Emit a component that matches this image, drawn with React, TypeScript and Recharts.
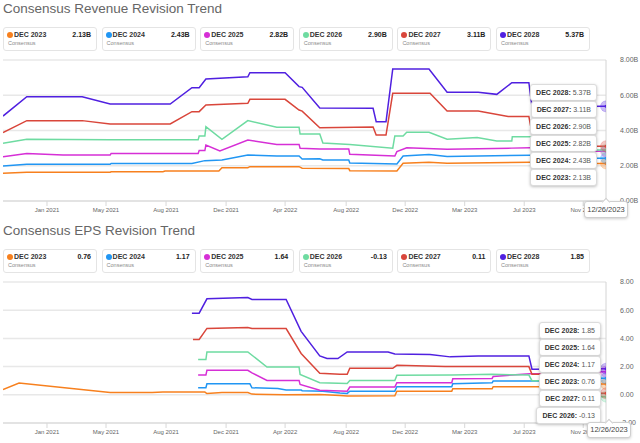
import React from "react";
import { LineChart, Line, XAxis, YAxis, CartesianGrid, ReferenceLine } from "recharts";

const FONT = '"Liberation Sans", Arial, Helvetica, sans-serif';

const seriesLabels = ["DEC 2023", "DEC 2024", "DEC 2025", "DEC 2026", "DEC 2027", "DEC 2028"];
const seriesColors = ["#f7801e", "#2196f3", "#d62fd6", "#6edba1", "#d9463b", "#5020e0"];

const xTickDates = [
  "2021-01-10", "2021-05-04", "2021-08-28", "2021-12-22", "2022-04-15",
  "2022-08-11", "2022-12-03", "2023-03-28", "2023-07-21", "2023-11-12",
];
const xTickLabels = [
  "Jan 2021", "May 2021", "Aug 2021", "Dec 2021", "Apr 2022",
  "Aug 2022", "Dec 2022", "Mar 2023", "Jul 2023", "Nov 2023",
];
const startDate = "2020-10-17";
const endDate = "2023-12-26";
const endLabel = "12/26/2023";

const revTicks = [0, 2, 4, 6, 8];
const epsTicks = [-2, 0, 2, 4, 6, 8];

// revenue, $B
const rev2023: [string, number][] = [
  ["2020-10-17", 1.57], ["2020-12-02", 1.63], ["2021-05-12", 1.63], ["2021-05-14", 1.66],
  ["2021-08-22", 1.66], ["2021-08-26", 1.7], ["2021-12-08", 1.7], ["2021-12-14", 1.89],
  ["2022-02-02", 1.89], ["2022-02-06", 1.95], ["2022-05-12", 1.95], ["2022-05-18", 1.86],
  ["2022-08-16", 1.84], ["2022-08-18", 1.72], ["2022-11-17", 1.7], ["2022-11-29", 2.14],
  ["2023-01-18", 2.2], ["2023-02-22", 2.14], ["2023-08-01", 2.2], ["2023-09-20", 2.2],
  ["2023-09-21", 2.13], ["2023-12-26", 2.13],
];
const rev2024: [string, number][] = [
  ["2020-10-17", 1.99], ["2020-12-02", 2.08], ["2021-05-12", 2.08], ["2021-05-14", 2.13],
  ["2021-10-17", 2.13], ["2021-11-11", 2.29], ["2021-12-14", 2.33], ["2022-02-02", 2.61],
  ["2022-03-30", 2.55], ["2022-05-12", 2.55], ["2022-05-18", 2.38], ["2022-06-21", 2.4],
  ["2022-06-27", 2.33], ["2022-08-16", 2.33], ["2022-08-18", 2.16], ["2022-11-17", 2.1],
  ["2022-11-29", 2.55], ["2023-01-18", 2.64], ["2023-02-22", 2.52], ["2023-08-01", 2.6],
  ["2023-09-20", 2.6], ["2023-09-21", 2.43], ["2023-12-26", 2.43],
];
const rev2025: [string, number][] = [
  ["2020-10-17", 2.51], ["2020-12-02", 2.7], ["2021-02-10", 2.61], ["2021-05-12", 2.61],
  ["2021-05-14", 2.7], ["2021-10-29", 2.7], ["2021-10-31", 2.86], ["2021-11-11", 2.86],
  ["2021-11-13", 3.18], ["2021-12-10", 2.84], ["2022-02-02", 3.46], ["2022-03-30", 3.21],
  ["2022-05-12", 3.21], ["2022-05-14", 2.99], ["2022-06-21", 2.95], ["2022-08-16", 2.95],
  ["2022-08-18", 2.65], ["2022-11-13", 2.55], ["2022-11-17", 2.8], ["2022-12-06", 3.02],
  ["2023-02-22", 2.93], ["2023-06-27", 3.0], ["2023-08-01", 3.02], ["2023-09-20", 3.02],
  ["2023-09-21", 2.82], ["2023-12-26", 2.82],
];
const rev2026: [string, number][] = [
  ["2020-10-17", 3.27], ["2020-12-02", 3.5], ["2021-05-12", 3.47], ["2021-10-29", 3.47],
  ["2021-10-31", 3.69], ["2021-11-11", 3.69], ["2021-11-13", 4.22], ["2021-12-14", 3.5],
  ["2022-02-02", 4.56], ["2022-03-30", 4.18], ["2022-05-12", 4.18], ["2022-05-14", 3.8],
  ["2022-06-21", 3.8], ["2022-06-27", 3.29], ["2022-08-18", 3.2], ["2022-11-09", 3.0],
  ["2022-11-13", 3.69], ["2022-11-29", 3.69], ["2022-12-06", 3.9], ["2023-01-18", 3.9],
  ["2023-02-22", 3.5], ["2023-04-21", 3.6], ["2023-05-29", 3.4], ["2023-06-27", 3.4],
  ["2023-06-28", 3.65], ["2023-08-01", 3.65], ["2023-09-20", 3.55], ["2023-09-21", 2.9],
  ["2023-12-26", 2.9],
];
const rev2027: [string, number][] = [
  ["2020-10-17", 3.88], ["2020-12-02", 4.56], ["2021-03-19", 4.56], ["2021-05-12", 4.37],
  ["2021-09-05", 4.37], ["2021-10-17", 5.07], ["2021-10-31", 5.07], ["2021-11-13", 5.45],
  ["2022-02-02", 5.54], ["2022-02-06", 5.77], ["2022-04-15", 5.77], ["2022-05-12", 5.16],
  ["2022-05-18", 5.1], ["2022-06-21", 4.16], ["2022-10-02", 4.2], ["2022-10-08", 3.74],
  ["2022-10-27", 3.74], ["2022-11-09", 6.11], ["2023-01-20", 6.11], ["2023-02-22", 5.1],
  ["2023-04-23", 5.1], ["2023-06-20", 4.79], ["2023-07-30", 4.79], ["2023-08-05", 3.86],
  ["2023-09-20", 3.86], ["2023-09-21", 3.11], ["2023-12-26", 3.11],
];
const rev2028: [string, number][] = [
  ["2020-10-17", 4.82], ["2020-12-02", 5.92], ["2021-03-19", 5.92], ["2021-05-12", 5.5],
  ["2021-09-05", 5.5], ["2021-10-17", 6.43], ["2021-10-31", 6.43], ["2021-11-13", 6.92],
  ["2022-02-02", 7.05], ["2022-02-06", 7.28], ["2022-04-15", 7.28], ["2022-05-12", 6.49],
  ["2022-05-18", 6.45], ["2022-06-21", 5.28], ["2022-10-02", 5.26], ["2022-10-08", 4.5],
  ["2022-10-27", 4.5], ["2022-11-09", 7.49], ["2023-01-18", 7.49], ["2023-02-22", 6.17],
  ["2023-04-23", 6.17], ["2023-05-29", 6.05], ["2023-06-27", 6.71], ["2023-07-30", 6.71],
  ["2023-08-05", 5.35], ["2023-12-26", 5.37],
];

// EPS, $
const eps2023: [string, number][] = [
  ["2020-10-17", 0.38], ["2020-11-17", 0.83], ["2021-05-12", 0.16], ["2021-08-01", 0.16],
  ["2021-08-22", 0.2], ["2021-11-11", 0.19], ["2021-11-15", 0.09], ["2021-12-14", 0.16],
  ["2022-02-02", 0.16], ["2022-02-10", 0.05], ["2022-04-15", 0.0], ["2022-06-21", 0.02],
  ["2022-07-30", -0.05], ["2022-08-13", -0.08], ["2022-11-13", -0.07], ["2022-11-17", 0.26],
  ["2023-03-03", 0.26], ["2023-03-05", 0.43], ["2023-05-20", 0.43], ["2023-05-22", 0.57],
  ["2023-09-20", 0.57], ["2023-09-21", 0.76], ["2023-12-26", 0.76],
];
const eps2024: [string, number][] = [
  ["2021-10-29", 0.5], ["2021-11-13", 0.5], ["2021-11-15", 0.78], ["2022-02-06", 0.78],
  ["2022-02-10", 0.5], ["2022-04-01", 0.44], ["2022-04-17", 0.34], ["2022-05-16", 0.34],
  ["2022-05-18", 0.29], ["2022-06-27", 0.26], ["2022-07-30", 0.12], ["2022-08-13", 0.1],
  ["2022-08-18", 0.26], ["2022-11-13", 0.26], ["2022-11-17", 0.57], ["2023-03-03", 0.57],
  ["2023-03-05", 0.78], ["2023-05-20", 0.85], ["2023-05-22", 0.97], ["2023-09-20", 0.97],
  ["2023-09-21", 1.17], ["2023-12-26", 1.17],
];
const eps2025: [string, number][] = [
  ["2021-10-29", 1.4], ["2021-11-13", 1.4], ["2021-11-15", 1.74], ["2022-02-02", 1.74],
  ["2022-02-10", 1.55], ["2022-03-11", 1.02], ["2022-05-12", 1.02], ["2022-05-14", 0.74],
  ["2022-06-21", 0.33], ["2022-08-13", 0.26], ["2022-08-18", 0.55], ["2022-11-13", 0.55],
  ["2022-11-17", 0.86], ["2023-03-03", 0.86], ["2023-03-05", 1.14], ["2023-05-20", 1.16],
  ["2023-05-22", 1.3], ["2023-08-01", 1.5], ["2023-09-20", 1.5], ["2023-09-21", 1.64],
  ["2023-12-26", 1.64],
];
const eps2026: [string, number][] = [
  ["2021-10-29", 2.5], ["2021-11-13", 2.5], ["2021-11-15", 3.04], ["2022-02-02", 3.04],
  ["2022-03-11", 1.97], ["2022-05-12", 1.97], ["2022-05-14", 1.45], ["2022-06-21", 0.86],
  ["2022-08-13", 0.8], ["2022-08-18", 1.02], ["2022-11-13", 1.02], ["2022-11-17", 1.38],
  ["2023-03-03", 1.4], ["2023-05-20", 1.45], ["2023-07-30", 1.4], ["2023-08-05", 1.0],
  ["2023-09-20", 1.0], ["2023-09-21", -0.13], ["2023-12-26", -0.13],
];
const eps2027: [string, number][] = [
  ["2021-10-19", 3.93], ["2021-10-31", 3.93], ["2021-11-15", 4.71], ["2022-02-02", 4.78],
  ["2022-02-10", 4.7], ["2022-04-17", 4.7], ["2022-05-16", 2.93], ["2022-06-21", 1.52],
  ["2022-07-30", 1.45], ["2022-08-13", 1.45], ["2022-08-18", 1.88], ["2022-11-09", 1.88],
  ["2022-11-17", 2.09], ["2023-02-18", 2.0], ["2023-07-30", 2.0], ["2023-08-05", 1.45],
  ["2023-09-20", 1.45], ["2023-09-21", 0.11], ["2023-12-26", 0.11],
];
const eps2028: [string, number][] = [
  ["2021-10-17", 5.79], ["2021-10-31", 5.79], ["2021-11-15", 6.81], ["2022-02-02", 6.9],
  ["2022-02-10", 6.76], ["2022-04-17", 6.76], ["2022-05-16", 4.5], ["2022-06-21", 2.76],
  ["2022-07-05", 2.57], ["2022-07-26", 2.57], ["2022-08-13", 3.04], ["2022-10-31", 3.04],
  ["2022-11-13", 2.9], ["2023-01-20", 2.86], ["2023-02-28", 2.69], ["2023-04-23", 2.76],
  ["2023-07-30", 2.76], ["2023-08-05", 1.81], ["2023-12-26", 1.85],
];

const revSeries = [rev2023, rev2024, rev2025, rev2026, rev2027, rev2028];
const epsSeries = [eps2023, eps2024, eps2025, eps2026, eps2027, eps2028];

const ts = (d: string) => Date.parse(d);

type Pt = { t: number; v: number };

function buildSeries(rows: [string, number][][]) {
  return rows.map((r, i) => ({
    label: seriesLabels[i],
    color: seriesColors[i],
    points: r.map(([d, v]) => ({ t: ts(d), v })) as Pt[],
    last: r[r.length - 1][1],
  }));
}

type Series = ReturnType<typeof buildSeries>[number];

function Card({ s, left, top, fmt }: { s: Series; left: number; top: number; fmt: (v: number) => string }) {
  return (
    <div
      style={{
        position: "absolute", left, top, width: 94, height: 24, boxSizing: "border-box",
        border: "1px solid #e4e4e4", borderRadius: 3, background: "#fff",
      }}
    >
      <div style={{ position: "absolute", left: 3, top: 4, width: 6, height: 6, borderRadius: 3, background: s.color }} />
      <div style={{ position: "absolute", left: 10, top: 2, fontSize: 7, lineHeight: "10px", color: "#333", fontWeight: 600 }}>
        {s.label}
      </div>
      <div style={{ position: "absolute", right: 5, top: 2, fontSize: 7, lineHeight: "10px", color: "#222", fontWeight: 700 }}>
        {fmt(s.last)}
      </div>
      <div style={{ position: "absolute", left: 4, top: 11, fontSize: 5.5, lineHeight: "9px", color: "#8a8a8a" }}>
        Consensus
      </div>
    </div>
  );
}

function Section({
  title, series, yTicks, fmt, top, chartTop, chartHeight, xAxisHeight, tipTop, tipRight, dateBox,
}: {
  title: string; series: Series[]; yTicks: number[]; fmt: (v: number) => string;
  top: number; chartTop: number; chartHeight: number; xAxisHeight: number;
  tipTop: number; tipRight: number; dateBox: { left: number; top: number; height: number };
}) {
  const sorted = [...series].sort((a, b) => b.last - a.last);
  const endTs = ts(endDate);
  return (
    <>
      <div style={{ position: "absolute", left: 3, top, fontSize: 13.5, lineHeight: "18px", color: "#666" }}>{title}</div>
      {series.map((s, i) => (
        <Card key={s.label} s={s} left={3 + i * 98.6} top={top + 27} fmt={fmt} />
      ))}
      <div style={{ position: "absolute", left: 0, top: chartTop }}>
        <LineChart width={640} height={chartHeight} margin={{ top: 5, right: 0, bottom: 0, left: 3 }}>
          <CartesianGrid horizontal vertical={false} stroke="#e8e8e8" strokeWidth={1.5} />
          <XAxis
            type="number"
            dataKey="t"
            domain={[ts(startDate), endTs]}
            ticks={xTickDates.map(ts)}
            tickFormatter={(_v: number, i: number) => xTickLabels[i]}
            height={xAxisHeight}
            tickSize={5}
            tickMargin={2}
            stroke="#d8d8d8"
            tick={{ fontSize: 6, fill: "#666", fontFamily: FONT }}
            allowDataOverflow
          />
          <YAxis
            orientation="right"
            domain={[yTicks[0], yTicks[yTicks.length - 1]]}
            ticks={yTicks}
            tickFormatter={(v: number) => fmt(v)}
            width={34}
            axisLine={false}
            tickLine={false}
            tickMargin={8}
            tick={{ fontSize: 7, fill: "#666", fontFamily: FONT }}
          />
          <ReferenceLine x={endTs} stroke="#d4d4d4" />
          {series.map((s) => (
            <Line
              key={s.label}
              data={s.points}
              dataKey="v"
              type="linear"
              stroke={s.color}
              strokeWidth={1.5}
              isAnimationActive={false}
              activeDot={false}
              dot={(p: any) =>
                p.index === s.points.length - 1 ? (
                  <g key={`d${p.index}`}>
                    <circle cx={p.cx} cy={p.cy} r={5.5} fill={s.color} fillOpacity={0.3} stroke={s.color} strokeOpacity={0.2} />
                    <circle cx={p.cx} cy={p.cy} r={1.5} fill={s.color} />
                  </g>
                ) : (
                  <g key={`d${p.index}`} />
                )
              }
            />
          ))}
        </LineChart>
      </div>
      {sorted.map((s, i) => (
        <div
          key={s.label}
          style={{
            position: "absolute", right: tipRight, top: tipTop + i * 17, height: 17, boxSizing: "border-box",
            padding: "0 5px", background: "#fff", border: "1px solid #dcdcdc", borderRadius: 3,
            boxShadow: "0 1px 3px rgba(0,0,0,0.25)", fontSize: 7, lineHeight: "15px", color: "#555", whiteSpace: "nowrap",
          }}
        >
          <b style={{ color: "#333" }}>{s.label}:</b> {fmt(s.last)}
        </div>
      ))}
      <div
        style={{
          position: "absolute", left: dateBox.left, top: dateBox.top, width: 44, height: dateBox.height,
          boxSizing: "border-box", background: "#fff", border: "1px solid #cfcfcf", borderRadius: 3,
          boxShadow: "0 1px 3px rgba(0,0,0,0.2)", fontSize: 7.5, lineHeight: `${dateBox.height - 2}px`,
          textAlign: "center", color: "#444",
        }}
      >
        <div
          style={{
            position: "absolute", left: 18, top: -3.5, width: 5, height: 5, background: "#fff",
            borderLeft: "1px solid #cfcfcf", borderTop: "1px solid #cfcfcf", transform: "rotate(45deg)",
          }}
        />
        <span style={{ position: "relative" }}>{endLabel}</span>
      </div>
    </>
  );
}

export default function App() {
  const rev = buildSeries(revSeries);
  const eps = buildSeries(epsSeries);
  return (
    <div style={{ position: "relative", width: 640, height: 443, background: "#fff", fontFamily: FONT, overflow: "hidden" }}>
      <style>{"body{margin:0}"}</style>
      <Section
        title="Consensus Revenue Revision Trend"
        series={rev}
        yTicks={revTicks}
        fmt={(v) => `${v.toFixed(2)}B`}
        top={0}
        chartTop={55}
        chartHeight={167}
        xAxisHeight={21}
        tipTop={84}
        tipRight={43}
        dateBox={{ left: 584, top: 201, height: 17 }}
      />
      <Section
        title="Consensus EPS Revision Trend"
        series={eps}
        yTicks={epsTicks}
        fmt={(v) => v.toFixed(2)}
        top={222}
        chartTop={277}
        chartHeight={166}
        xAxisHeight={20}
        tipTop={322}
        tipRight={39}
        dateBox={{ left: 587, top: 422, height: 16 }}
      />
    </div>
  );
}
